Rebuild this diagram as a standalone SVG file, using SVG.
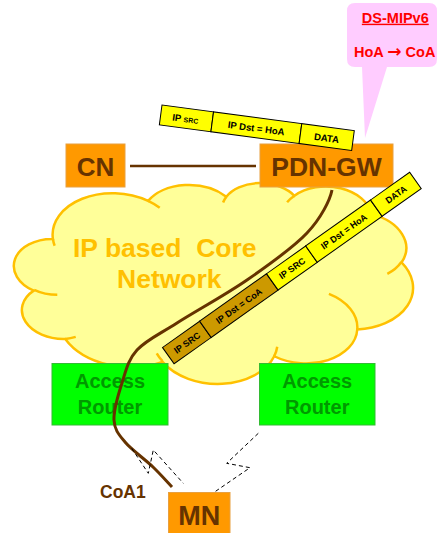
<svg xmlns="http://www.w3.org/2000/svg" width="438" height="533" viewBox="0 0 438 533">
  <style>
    .lbl { font-family: "Liberation Sans", Arial, sans-serif; font-weight: bold; }
    .box { fill: #FF9900; stroke: #E8A040; stroke-width: 1; }
    .boxtxt { fill: #663300; text-anchor: middle; }
    .ar { fill: #00FF00; stroke: #33BB33; stroke-width: 1; }
    .artxt { fill: #009900; text-anchor: middle; font-size: 20px; }
    .cloud { fill: #FFFF99; stroke: #FFC000; stroke-width: 2.5; vector-effect: non-scaling-stroke; }
    .cloudline { fill: none; stroke: #FFC000; stroke-width: 2.5; vector-effect: non-scaling-stroke; }
    .seg { stroke: #000; stroke-width: 1; }
    .yel { fill: #FFFF00; }
    .brn { fill: #CC9900; }
    .pkt { text-anchor: middle; fill: #000; }
    .radio { fill: none; stroke: #000; stroke-width: 1; stroke-dasharray: 4 3; }
  </style>

  <!-- core network cloud (43200-unit cloud outline, scaled into place) -->
  <g id="core-network">
    <g transform="rotate(3 214 281) translate(15 180) scale(0.009213 0.0046991)">
      <path class="cloud" d="M3900,14370 A6753,9190 0 0 1 14006,5203 A5333,7267 0 0 1 22457,3433 A4365,5945 0 0 1 29835,2482 A4857,6595 0 0 1 38319,5578 A5333,7273 0 0 1 41820,15462 A6775,9220 0 0 1 37405,30203 A5785,7867 0 0 1 28557,36814 A6752,9215 0 0 1 16481,39266 A7720,10543 0 0 1 5805,35473 A4360,5918 0 0 1 2114,25551 A4345,5945 0 0 1 3900,14370 Z"/>
      <path class="cloudline" d="M4693,26177 A4345,5945 0 0 1 2160,25380 M6928,34899 A4360,5918 0 0 1 5805,35473 M16478,39090 A6752,9215 0 0 1 15803,37491 M28827,34751 A6752,9215 0 0 1 28557,36814 M34129,22954 A5785,7867 0 0 1 37405,30203 M41798,15354 A5333,7273 0 0 1 40349,18031 M38324,5426 A4857,6595 0 0 1 38401,6689 M29078,3952 A4857,6595 0 0 1 29835,2482 M22141,4720 A4365,5945 0 0 1 22457,3433 M14006,5203 A6753,9190 0 0 1 15301,6546 M4127,15789 A6753,9190 0 0 1 3900,14370"/>
    </g>
    <text class="lbl" font-size="26.5" fill="#FFC000" style="white-space:pre"><tspan x="73" y="257">IP based  Core</tspan><tspan x="117" y="288">Network</tspan></text>
  </g>

  <!-- nodes -->
  <g id="cn">
    <rect class="box" x="66" y="144" width="59" height="43"/>
    <text class="lbl boxtxt" x="95.5" y="176" font-size="26">CN</text>
  </g>
  <g id="pdn-gw">
    <rect class="box" x="260" y="144" width="133" height="43"/>
    <text class="lbl boxtxt" x="326.5" y="176" font-size="26.5">PDN-GW</text>
  </g>
  <g id="access-router-1">
    <rect class="ar" x="52" y="363.5" width="116" height="61.5"/>
    <text class="lbl artxt" x="110" y="388">Access</text>
    <text class="lbl artxt" x="110" y="414">Router</text>
  </g>
  <g id="access-router-2">
    <rect class="ar" x="259.5" y="363.5" width="115.5" height="61.5"/>
    <text class="lbl artxt" x="317.2" y="388">Access</text>
    <text class="lbl artxt" x="317.2" y="414">Router</text>
  </g>
  <g id="mn">
    <rect class="box" x="168.5" y="492.5" width="61.5" height="44"/>
    <text class="lbl boxtxt" x="199.2" y="525" font-size="27">MN</text>
  </g>

  <!-- connectors -->
  <g id="connectors">
    <line x1="130" y1="166" x2="256" y2="166" stroke="#663300" stroke-width="2.5"/>
    <path d="M332,190 C330,200 321.2,218 307,233 C292.8,248 268.7,265 247,280 C225.3,295 195.3,311.3 177,323 C158.7,334.7 146.2,340 137,350 C127.8,360 125.8,371.3 122,383 C118.2,394.7 113.5,410.2 114,420 C114.5,429.8 118.5,434.2 125,442 C131.5,449.8 145.2,459.5 153,467 C160.8,474.5 168.8,483.7 172,487" fill="none" stroke="#663300" stroke-width="3"/>
    <polyline class="radio" points="131.7,448.3 148.3,473.3 153.3,450 183.3,483.3"/>
    <polyline class="radio" points="258.3,433.3 226.7,463.3 250,467.7 215,491.7"/>
    <text class="lbl" x="100" y="498" font-size="17.5" fill="#663300">CoA1</text>
  </g>

  <!-- tunnelled packet along the path -->
  <g id="tunnel-packet" transform="translate(162.5 347.5) rotate(-35.34)">
    <rect class="seg brn" x="0" y="0" width="45.5" height="20"/>
    <rect class="seg brn" x="45.5" y="0" width="82" height="20"/>
    <rect class="seg yel" x="127.5" y="0" width="48" height="20"/>
    <rect class="seg yel" x="175.5" y="0" width="79.5" height="20"/>
    <rect class="seg yel" x="255" y="0" width="48" height="20"/>
    <g class="lbl pkt" font-size="9">
      <text x="22.7" y="13.5">IP SRC</text>
      <text x="86.5" y="13.5">IP Dst = CoA</text>
      <text x="151.5" y="13.5">IP SRC</text>
      <text x="215.2" y="13.5">IP Dst = HoA</text>
      <text x="279" y="13.5">DATA</text>
    </g>
  </g>

  <!-- inner packet at the gateway -->
  <g id="inner-packet" transform="translate(162 105) rotate(7.6)">
    <rect class="seg yel" x="0" y="0" width="52" height="20"/>
    <rect class="seg yel" x="52" y="0" width="89" height="20"/>
    <rect class="seg yel" x="141" y="0" width="53" height="20"/>
    <g class="lbl pkt" font-size="9.5">
      <text x="25" y="14"><tspan>IP </tspan><tspan font-size="7">SRC</tspan></text>
      <text x="96.5" y="14">IP Dst = HoA</text>
      <text x="167.5" y="14.5">DATA</text>
    </g>
  </g>

  <!-- DS-MIPv6 callout -->
  <g id="callout">
    <path d="M355,3 H429 Q437,3 437,11 V59 Q437,67 429,67 H387 L365,138 L362,67 H355 Q347,67 347,59 V11 Q347,3 355,3 Z" fill="#FFCCFF"/>
    <text class="lbl" x="395.3" y="22.7" font-size="14.5" fill="#FF0000" text-anchor="middle" text-decoration="underline">DS-MIPv6</text>
    <text class="lbl" x="394.7" y="57.3" font-size="14.5" fill="#FF0000" text-anchor="middle">HoA <tspan font-family="DejaVu Sans, sans-serif" font-size="17">→</tspan> CoA</text>
  </g>
</svg>
